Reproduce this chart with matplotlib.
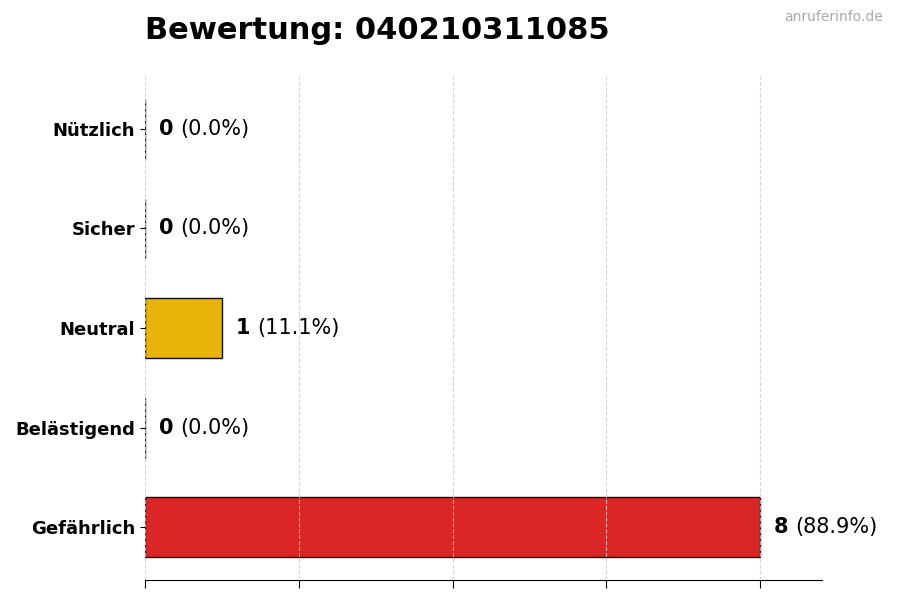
import matplotlib.pyplot as plt
from matplotlib import transforms

categories = ["Gefährlich", "Belästigend", "Neutral", "Sicher", "Nützlich"]
counts = [8, 0, 1, 0, 0]
colors = ["#dc2626", "#dc2626", "#eab308", "#22c55e", "#16a34a"]
number = "040210311085"

total = sum(counts)

fig = plt.figure(figsize=(9, 6), dpi=100)
ax = fig.add_axes([0.161, 0.0333, 0.752, 0.84])

ax.barh(categories, counts, height=0.6, color=colors, edgecolor="#111111", linewidth=1)
ax.set_xlim(0, max(counts) * 1.1)
ax.set_xticks(range(0, max(counts) + 1, 2))
ax.set_xticklabels([])
ax.tick_params(axis="x", length=6)
ax.grid(axis="x", linestyle="--", color="#cccccc", linewidth=0.8, alpha=0.8)
ax.set_axisbelow(False)

for side in ["top", "right", "left"]:
    ax.spines[side].set_visible(False)

for lbl in ax.get_yticklabels():
    lbl.set_fontweight("bold")
    lbl.set_fontsize(13)

for i, c in enumerate(counts):
    pct = 100 * c / total if total else 0
    t = ax.text(c + 0.18, i, f"{c}", fontsize=15, fontweight="bold", va="center", ha="left")
    fig.canvas.draw()
    ext = t.get_window_extent()
    offset = transforms.offset_copy(t.get_transform(), fig=fig, x=ext.width + 7, units="dots")
    ax.text(c + 0.18, i, f"({pct:.1f}%)", fontsize=15, va="center", ha="left", transform=offset)

fig.text(0.161, 0.935, f"Bewertung: {number}", fontsize=22, fontweight="bold", ha="left", va="baseline")
fig.text(0.981, 0.971, "anruferinfo.de", fontsize=10, color="#aaaaaa", ha="right", va="center")

fig.savefig("out.png", dpi=100)
